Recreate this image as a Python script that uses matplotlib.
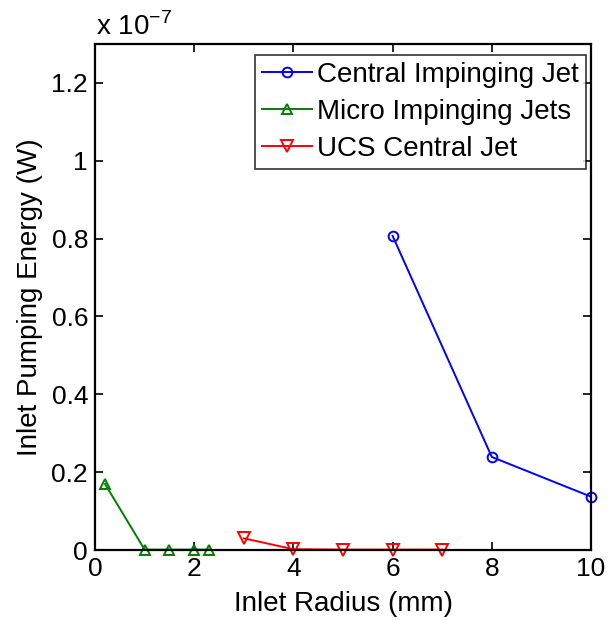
import matplotlib
matplotlib.use("Agg")
import matplotlib.pyplot as plt
from matplotlib.ticker import FuncFormatter

plt.rcParams['font.family'] = ['Liberation Sans', 'DejaVu Sans']

# inlet radius (mm) and pumping energy (W)
central_x = [6, 8, 10]
central_y = [0.807e-7, 0.239e-7, 0.137e-7]
micro_x = [0.2, 1.0, 1.5, 2.0, 2.3]
micro_y = [0.170e-7, 0.001e-7, 0.001e-7, 0.001e-7, 0.001e-7]
ucs_x = [3, 4, 5, 6, 7]
ucs_y = [0.030e-7, 0.002e-7, 0.001e-7, 0.001e-7, 0.001e-7]

fig = plt.figure(figsize=(6.08, 6.2), dpi=100)
ax = fig.add_axes([95 / 608, 70 / 620, 496 / 608, 506 / 620])

ax.plot(central_x, central_y, '-o', color='#0000ff', lw=1.4, ms=7,
        mfc='none', mew=1.4, label='Central Impinging Jet', clip_on=False)
ax.plot(micro_x, micro_y, '-^', color='#008000', lw=1.4, ms=7,
        mfc='none', mew=1.4, label='Micro Impinging Jets', clip_on=False)
ax.plot(ucs_x, ucs_y, '-v', color='#ff0000', lw=1.4, ms=8,
        mfc='none', mew=1.4, label='UCS Central Jet', clip_on=False)

ax.set_xlim(0, 10)
ax.set_ylim(0, 1.3e-7)
ax.set_xticks([0, 2, 4, 6, 8, 10])
ax.set_yticks([0, 0.2e-7, 0.4e-7, 0.6e-7, 0.8e-7, 1.0e-7, 1.2e-7])
ax.yaxis.set_major_formatter(FuncFormatter(lambda v, p: '%g' % round(v / 1e-7, 2)))
ax.tick_params(direction='in', length=6, width=1.2, labelsize=19,
               top=True, right=True, pad=5)
for s in ax.spines.values():
    s.set_linewidth(1.6)

ax.set_xlabel('Inlet Radius (mm)', fontsize=20, labelpad=7)
ax.set_ylabel('Inlet Pumping Energy (W)', fontsize=20, labelpad=6)
fig.text(96 / 608, 1 - 35 / 620, r'x 10$^{\mathregular{-7}}$', fontsize=20,
         ha='left', va='baseline')

leg = ax.legend(loc='upper right', fontsize=20, frameon=True, fancybox=False,
                edgecolor='black', bbox_to_anchor=(586 / 608, 1 - 55 / 620),
                bbox_transform=fig.transFigure, borderaxespad=0,
                handlelength=1.8, handletextpad=0.2, labelspacing=0.4,
                borderpad=0.25)
leg.get_frame().set_linewidth(1.2)

fig.savefig('out.png', dpi=100)
